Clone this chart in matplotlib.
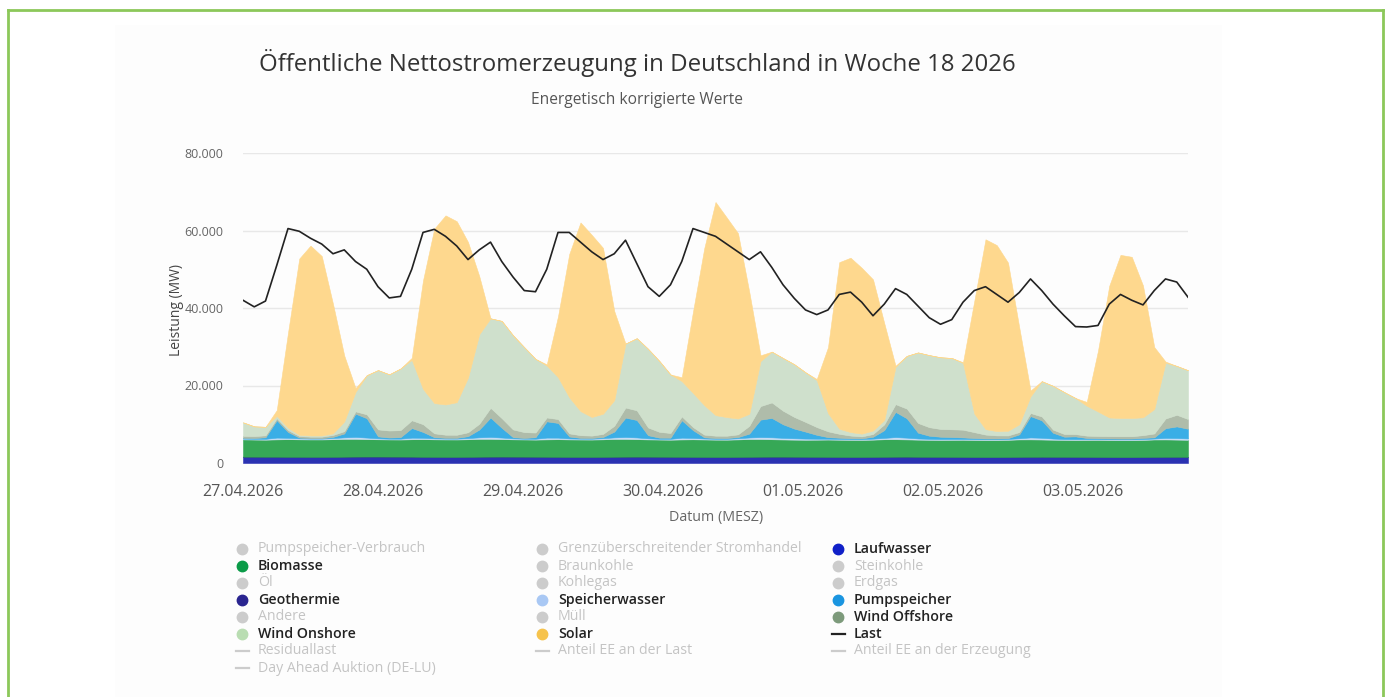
import numpy as np
import matplotlib.pyplot as plt
from matplotlib.lines import Line2D
from matplotlib.patches import Rectangle
from matplotlib.ticker import FuncFormatter

plt.rcParams['font.family'] = ['Open Sans', 'DejaVu Sans']

W, H = 1395, 697

# time axis: hours since 27.04.2026 00:00, 2-hour steps
hours = np.arange(0, 169, 2)

# generation in GW (one row per day, last value = end of week)
laufwasser = [
    1.62, 1.61, 1.60, 1.60, 1.58, 1.57, 1.56, 1.56, 1.57, 1.60, 1.63, 1.64,
    1.63, 1.62, 1.61, 1.60, 1.58, 1.56, 1.55, 1.55, 1.57, 1.60, 1.62, 1.63,
    1.62, 1.61, 1.60, 1.59, 1.57, 1.55, 1.54, 1.54, 1.56, 1.59, 1.61, 1.62,
    1.61, 1.60, 1.59, 1.58, 1.56, 1.54, 1.53, 1.53, 1.55, 1.58, 1.60, 1.61,
    1.60, 1.59, 1.58, 1.57, 1.55, 1.53, 1.52, 1.52, 1.54, 1.57, 1.59, 1.60,
    1.59, 1.58, 1.57, 1.56, 1.54, 1.52, 1.51, 1.51, 1.53, 1.56, 1.58, 1.59,
    1.58, 1.57, 1.56, 1.55, 1.53, 1.51, 1.50, 1.50, 1.52, 1.55, 1.57, 1.58,
    1.57]
geothermie = [
    0.02, 0.02, 0.02, 0.02, 0.02, 0.02, 0.02, 0.02, 0.02, 0.02, 0.02, 0.02,
    0.03, 0.03, 0.03, 0.03, 0.02, 0.02, 0.02, 0.02, 0.02, 0.02, 0.02, 0.02,
    0.02, 0.02, 0.02, 0.02, 0.02, 0.02, 0.02, 0.02, 0.02, 0.02, 0.02, 0.02,
    0.02, 0.02, 0.02, 0.02, 0.02, 0.02, 0.02, 0.02, 0.02, 0.02, 0.02, 0.02,
    0.03, 0.03, 0.03, 0.03, 0.03, 0.03, 0.03, 0.03, 0.03, 0.03, 0.03, 0.03,
    0.02, 0.02, 0.02, 0.02, 0.02, 0.02, 0.02, 0.02, 0.02, 0.02, 0.02, 0.02,
    0.02, 0.02, 0.02, 0.02, 0.02, 0.02, 0.02, 0.02, 0.02, 0.02, 0.02, 0.02,
    0.02]
biomasse = [
    4.45, 4.42, 4.40, 4.48, 4.55, 4.52, 4.50, 4.50, 4.55, 4.60, 4.58, 4.50,
    4.46, 4.43, 4.42, 4.50, 4.56, 4.53, 4.51, 4.50, 4.54, 4.61, 4.59, 4.52,
    4.47, 4.44, 4.42, 4.49, 4.55, 4.52, 4.50, 4.49, 4.53, 4.60, 4.58, 4.51,
    4.46, 4.43, 4.41, 4.48, 4.54, 4.51, 4.48, 4.47, 4.52, 4.59, 4.57, 4.50,
    4.44, 4.41, 4.39, 4.42, 4.47, 4.45, 4.43, 4.42, 4.46, 4.53, 4.52, 4.46,
    4.42, 4.39, 4.37, 4.40, 4.44, 4.42, 4.40, 4.40, 4.44, 4.51, 4.50, 4.45,
    4.41, 4.38, 4.36, 4.39, 4.43, 4.41, 4.39, 4.39, 4.43, 4.50, 4.49, 4.44,
    4.40]
speicherwasser = [
    0.20, 0.20, 0.22, 0.45, 0.35, 0.25, 0.22, 0.22, 0.30, 0.40, 0.50, 0.40,
    0.25, 0.20, 0.22, 0.40, 0.35, 0.25, 0.22, 0.22, 0.30, 0.40, 0.50, 0.40,
    0.25, 0.20, 0.22, 0.45, 0.40, 0.25, 0.22, 0.22, 0.30, 0.40, 0.50, 0.45,
    0.28, 0.20, 0.22, 0.45, 0.35, 0.25, 0.22, 0.22, 0.30, 0.40, 0.50, 0.50,
    0.42, 0.35, 0.30, 0.25, 0.22, 0.22, 0.20, 0.20, 0.25, 0.35, 0.55, 0.45,
    0.30, 0.25, 0.22, 0.22, 0.20, 0.20, 0.20, 0.20, 0.22, 0.30, 0.50, 0.45,
    0.30, 0.22, 0.22, 0.20, 0.20, 0.20, 0.20, 0.20, 0.22, 0.25, 0.40, 0.40,
    0.35]
pumpspeicher = [
    0.2, 0.2, 0.4, 4.5, 1.5, 0.2, 0.1, 0.1, 0.3, 1.0, 6.0, 5.0,
    0.5, 0.3, 0.4, 2.5, 1.5, 0.3, 0.2, 0.2, 0.5, 2.0, 5.0, 2.5,
    0.3, 0.2, 0.4, 4.2, 3.8, 0.5, 0.2, 0.2, 0.3, 1.5, 5.0, 4.5,
    0.8, 0.3, 0.3, 4.5, 2.0, 0.3, 0.2, 0.2, 0.3, 1.0, 4.5, 5.0,
    3.5, 2.5, 1.8, 1.0, 0.4, 0.3, 0.2, 0.2, 0.5, 2.0, 6.5, 5.0,
    1.5, 0.8, 0.6, 0.5, 0.4, 0.3, 0.2, 0.2, 0.2, 1.0, 5.5, 4.5,
    1.5, 0.6, 0.7, 0.3, 0.2, 0.2, 0.2, 0.2, 0.3, 0.3, 2.5, 3.0,
    2.5]
wind_offshore = [
    0.5, 0.5, 0.5, 0.5, 0.5, 0.4, 0.4, 0.4, 0.5, 0.6, 0.6, 1.0,
    1.8, 1.8, 1.8, 2.0, 2.0, 1.0, 0.8, 0.8, 1.0, 1.5, 2.5, 2.5,
    2.0, 1.5, 1.2, 1.0, 1.0, 0.8, 0.7, 0.6, 0.8, 1.5, 2.6, 2.5,
    2.0, 1.5, 1.2, 1.0, 0.8, 0.7, 0.6, 0.6, 0.7, 2.0, 3.5, 4.0,
    3.5, 3.0, 2.5, 2.0, 1.5, 1.0, 0.7, 0.5, 0.7, 1.5, 2.0, 2.5,
    2.5, 2.2, 2.0, 2.0, 2.0, 1.5, 1.0, 0.8, 0.7, 0.6, 0.8, 1.0,
    0.8, 0.7, 0.6, 0.6, 0.6, 0.6, 0.6, 0.6, 0.7, 1.0, 2.5, 3.0,
    2.5]
wind_onshore = [
    3.5, 2.5, 2.2, 0.6, 0.6, 0.3, 0.3, 0.3, 0.4, 2.5, 5.0, 10.1,
    15.3, 14.5, 15.9, 15.6, 9.1, 7.8, 7.8, 8.4, 14.1, 23.1, 23.1, 25.1,
    24.3, 21.9, 19.0, 13.4, 10.8, 9.3, 6.2, 4.8, 5.2, 6.6, 16.5, 18.6,
    20.3, 18.3, 15.1, 9.1, 8.8, 7.6, 5.3, 4.8, 4.1, 3.1, 11.6, 13.1,
    13.6, 13.6, 12.8, 12.1, 4.7, 1.3, 0.9, 0.7, 0.9, 1.1, 9.6, 13.6,
    18.2, 18.6, 18.5, 18.4, 17.2, 4.8, 1.4, 1.1, 1.2, 2.0, 4.3, 9.1,
    11.3, 10.8, 9.3, 7.7, 6.3, 4.8, 4.7, 4.7, 4.6, 6.3, 14.4, 12.6,
    12.6]
solar = [
    0.0, 0.0, 0.0, 1.5, 24.5, 45.5, 49.0, 46.3, 33.4, 17.0, 1.0, 0.0,
    0.0, 0.0, 0.0, 0.5, 28.0, 45.0, 48.8, 46.7, 35.0, 15.0, 0.0, 0.0,
    0.0, 0.0, 0.0, 0.3, 15.7, 37.0, 48.7, 47.0, 42.8, 23.0, 0.0, 0.0,
    0.0, 0.0, 0.0, 1.0, 21.0, 40.5, 55.0, 51.5, 47.8, 31.5, 1.5, 0.0,
    0.0, 0.0, 0.0, 0.3, 17.0, 43.0, 45.0, 42.8, 39.0, 25.0, 0.3, 0.0,
    0.0, 0.0, 0.0, 0.0, 0.2, 29.0, 49.0, 48.0, 43.4, 25.0, 1.5, 0.0,
    0.0, 0.0, 0.0, 1.0, 15.7, 34.0, 42.1, 41.6, 34.0, 16.0, 0.3, 0.0,
    0.0]
last = [
    42.0, 40.3, 41.8, 51.0, 60.5, 59.8, 58.0, 56.5, 54.0, 55.0, 52.0, 50.0,
    45.5, 42.6, 43.0, 50.0, 59.5, 60.3, 58.5, 56.0, 52.5, 55.0, 57.0, 52.0,
    48.0, 44.5, 44.2, 50.0, 59.5, 59.5, 57.0, 54.5, 52.5, 54.0, 57.5, 51.5,
    45.5, 43.0, 46.0, 52.0, 60.5, 59.5, 58.5, 56.5, 54.5, 52.5, 54.5, 50.5,
    46.0, 42.5, 39.5, 38.3, 39.5, 43.5, 44.1, 41.5, 38.0, 41.0, 45.0, 43.5,
    40.5, 37.5, 35.8, 37.0, 41.5, 44.5, 45.5, 43.5, 41.5, 44.0, 47.5, 44.5,
    41.0, 38.0, 35.2, 35.1, 35.5, 41.0, 43.5, 42.0, 40.8, 44.5, 47.5, 46.7,
    42.8]

stack_series = [laufwasser, geothermie, biomasse, speicherwasser,
                pumpspeicher, wind_offshore, wind_onshore, solar]
stack_colors = ['#2b32b2', '#28248c', '#36a856', '#c6dcf5',
                '#3aaee6', '#afbcaa', '#cfe0cc', '#fed88e']

day_labels = ['27.04.2026', '28.04.2026', '29.04.2026', '30.04.2026',
              '01.05.2026', '02.05.2026', '03.05.2026']
# the labels in the original sit a little right of each midnight
day_ticks = [0, 24.9, 49.8, 74.7, 99.6, 124.4, 149.3]

# legend, row by row as in the original (None = switched off, drawn grey)
legend_names = [
    'Pumpspeicher-Verbrauch', 'Grenzüberschreitender Stromhandel', 'Laufwasser',
    'Biomasse', 'Braunkohle', 'Steinkohle',
    'Öl', 'Kohlegas', 'Erdgas',
    'Geothermie', 'Speicherwasser', 'Pumpspeicher',
    'Andere', 'Müll', 'Wind Offshore',
    'Wind Onshore', 'Solar', 'Last',
    'Residuallast', 'Anteil EE an der Last', 'Anteil EE an der Erzeugung',
    'Day Ahead Auktion (DE-LU)']
legend_colors = [
    None, None, '#1020c8',
    '#0b9b48', None, None,
    None, None, None,
    '#2a2590', '#a9c8f4', '#1a95e0',
    None, None, '#7d9a7b',
    '#b9ddb2', '#f6c34c', '#222222',
    None, None, None,
    None]
legend_lines = ['Last', 'Residuallast', 'Anteil EE an der Last',
                'Anteil EE an der Erzeugung', 'Day Ahead Auktion (DE-LU)']


def fx(px):
    return px / W


def fy(py):
    return 1 - py / H


fig = plt.figure(figsize=(W / 100, H / 100), dpi=100)

# faint panel and green frame
fig.add_artist(Rectangle((fx(115), 0), fx(1222) - fx(115), fy(25),
                         transform=fig.transFigure, facecolor='#fdfdfd',
                         edgecolor='none', zorder=0))
frame = dict(transform=fig.transFigure, color='#8cc85a', lw=2)
fig.add_artist(Line2D([fx(8), fx(1383)], [fy(10), fy(10)], **frame))
fig.add_artist(Line2D([fx(8), fx(8)], [fy(10), 0], **frame))
fig.add_artist(Line2D([fx(1383), fx(1383)], [fy(10), 0], **frame))

ax = fig.add_axes([fx(243), fy(463), fx(1188) - fx(243), fy(153) - fy(463)])
ax.set_facecolor('none')

polys = ax.stackplot(hours, *[np.array(s) * 1000 for s in stack_series],
                     colors=stack_colors, linewidth=0)
for p in polys:
    p.set_edgecolor(p.get_facecolor())
    p.set_linewidth(0.4)
ax.plot(hours, np.array(last) * 1000, color='#222222', lw=1.2, zorder=5)

ax.set_xlim(0, 168)
ax.set_ylim(0, 80000)
ax.set_yticks([0, 20000, 40000, 60000, 80000])
ax.yaxis.set_major_formatter(FuncFormatter(lambda v, p: f'{v:,.0f}'.replace(',', '.')))
ax.set_xticks(day_ticks)
ax.set_xticklabels(day_labels)
ax.grid(axis='y', color='#e8e8e8', lw=1)
ax.set_axisbelow(True)
for s in ax.spines.values():
    s.set_visible(False)
ax.tick_params(axis='y', length=0, pad=14, labelsize=9, labelcolor='#666666')
ax.tick_params(axis='x', length=0, pad=15, labelsize=11.5, labelcolor='#555555')

fig.text(fx(176), fy(310), 'Leistung (MW)', rotation=90, ha='center', va='center',
         fontsize=10, color='#444444')
fig.text(fx(716), fy(517), 'Datum (MESZ)', ha='center', va='center',
         fontsize=10.3, color='#666666')

fig.text(fx(637), fy(63), 'Öffentliche Nettostromerzeugung in Deutschland in Woche 18 2026',
         ha='center', va='center', fontsize=17.3, color='#333333')
fig.text(fx(637), fy(100), 'Energetisch korrigierte Werte', ha='center', va='center',
         fontsize=11.2, color='#555555')

# legend
col_x = [242, 542, 838]
for i, (name, col) in enumerate(zip(legend_names, legend_colors)):
    cx = col_x[i % 3]
    cy = 549 + 17 * (i // 3)
    active = col is not None
    mcol = col if active else '#cccccc'
    if name in legend_lines:
        fig.add_artist(Line2D([fx(cx - 6), fx(cx + 7)], [fy(cy), fy(cy)],
                              transform=fig.transFigure, color=mcol, lw=1.6))
    else:
        fig.add_artist(Line2D([fx(cx)], [fy(cy)], transform=fig.transFigure,
                              marker='o', markersize=7.5, color=mcol, lw=0))
    fig.text(fx(cx + 16), fy(cy), name, ha='left', va='center', fontsize=10.2,
             color='#222222' if active else '#c4c4c4',
             fontweight='semibold' if active else 'normal')

fig.savefig('out.png', dpi=100)
